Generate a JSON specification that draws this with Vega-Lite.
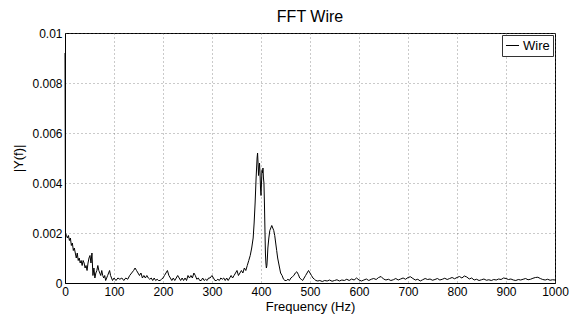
{
  "$schema": "https://vega.github.io/schema/vega-lite/v6.json",
  "autosize": "none",
  "width": 490,
  "height": 250,
  "padding": {"left": 65, "top": 33, "right": 21, "bottom": 31},
  "background": "white",
  "title": {"text": "FFT Wire", "fontSize": 16, "font": "Liberation Sans", "fontWeight": "normal", "color": "black", "offset": 2, "anchor": "middle", "frame": "group"},
  "config": {
    "font": "Liberation Sans",
    "view": {"stroke": "black", "strokeWidth": 1},
    "axis": {"labelFont": "Liberation Sans", "labelFontSize": 12, "labelColor": "black", "titleFont": "Liberation Sans", "titleFontSize": 13, "titleFontWeight": "normal", "titleColor": "black", "domainColor": "black", "tickColor": "black", "gridColor": "#666", "gridDash": [1, 3], "gridWidth": 1, "gridOpacity": 0.7}
  },
  "data": {"values": [
    {"f":0,"y":0.0092,"s":"Wire"},{"f":1,"y":0.0020,"s":"Wire"},{"f":3,"y":0.0019,"s":"Wire"},{"f":5,"y":0.0018,"s":"Wire"},{"f":7,"y":0.0019,"s":"Wire"},{"f":9,"y":0.0017,"s":"Wire"},{"f":11,"y":0.0018,"s":"Wire"},{"f":13,"y":0.0015,"s":"Wire"},{"f":15,"y":0.0016,"s":"Wire"},{"f":17,"y":0.0013,"s":"Wire"},{"f":19,"y":0.0014,"s":"Wire"},{"f":21,"y":0.0012,"s":"Wire"},{"f":23,"y":0.0010,"s":"Wire"},{"f":25,"y":0.0012,"s":"Wire"},{"f":27,"y":0.0009,"s":"Wire"},{"f":29,"y":0.0010,"s":"Wire"},{"f":31,"y":0.0008,"s":"Wire"},{"f":33,"y":0.0009,"s":"Wire"},{"f":35,"y":0.0007,"s":"Wire"},{"f":37,"y":0.0009,"s":"Wire"},{"f":39,"y":0.0008,"s":"Wire"},{"f":41,"y":0.0006,"s":"Wire"},{"f":43,"y":0.0007,"s":"Wire"},{"f":45,"y":0.0005,"s":"Wire"},{"f":47,"y":0.0008,"s":"Wire"},{"f":49,"y":0.0010,"s":"Wire"},{"f":51,"y":0.0011,"s":"Wire"},{"f":53,"y":0.0008,"s":"Wire"},{"f":55,"y":0.0012,"s":"Wire"},{"f":57,"y":0.0003,"s":"Wire"},{"f":59,"y":0.0006,"s":"Wire"},{"f":61,"y":0.0002,"s":"Wire"},{"f":63,"y":0.0004,"s":"Wire"},{"f":65,"y":0.0005,"s":"Wire"},{"f":67,"y":0.0007,"s":"Wire"},{"f":69,"y":0.0005,"s":"Wire"},{"f":71,"y":0.0004,"s":"Wire"},{"f":73,"y":0.0003,"s":"Wire"},{"f":75,"y":0.0005,"s":"Wire"},{"f":77,"y":0.0003,"s":"Wire"},{"f":79,"y":0.0002,"s":"Wire"},{"f":81,"y":0.0003,"s":"Wire"},{"f":83,"y":0.0001,"s":"Wire"},{"f":85,"y":0.0002,"s":"Wire"},{"f":87,"y":0.0003,"s":"Wire"},{"f":89,"y":0.0004,"s":"Wire"},{"f":91,"y":0.0005,"s":"Wire"},{"f":93,"y":0.0003,"s":"Wire"},{"f":95,"y":0.0002,"s":"Wire"},{"f":97,"y":0.0001,"s":"Wire"},{"f":100,"y":0.0002,"s":"Wire"},{"f":104,"y":0.0001,"s":"Wire"},{"f":108,"y":0.0002,"s":"Wire"},{"f":112,"y":0.00015,"s":"Wire"},{"f":116,"y":0.0002,"s":"Wire"},{"f":120,"y":0.0001,"s":"Wire"},{"f":124,"y":0.0002,"s":"Wire"},{"f":128,"y":0.00015,"s":"Wire"},{"f":132,"y":0.0003,"s":"Wire"},{"f":136,"y":0.0004,"s":"Wire"},{"f":140,"y":0.0005,"s":"Wire"},{"f":143,"y":0.0006,"s":"Wire"},{"f":146,"y":0.0005,"s":"Wire"},{"f":149,"y":0.0004,"s":"Wire"},{"f":152,"y":0.0003,"s":"Wire"},{"f":155,"y":0.0004,"s":"Wire"},{"f":158,"y":0.0002,"s":"Wire"},{"f":161,"y":0.0003,"s":"Wire"},{"f":164,"y":0.0002,"s":"Wire"},{"f":167,"y":0.0003,"s":"Wire"},{"f":170,"y":0.0002,"s":"Wire"},{"f":173,"y":0.00015,"s":"Wire"},{"f":176,"y":0.0002,"s":"Wire"},{"f":179,"y":0.0001,"s":"Wire"},{"f":182,"y":0.0002,"s":"Wire"},{"f":185,"y":0.0001,"s":"Wire"},{"f":188,"y":0.00015,"s":"Wire"},{"f":191,"y":0.0001,"s":"Wire"},{"f":194,"y":0.0001,"s":"Wire"},{"f":197,"y":0.00015,"s":"Wire"},{"f":200,"y":0.0002,"s":"Wire"},{"f":203,"y":0.0003,"s":"Wire"},{"f":206,"y":0.0004,"s":"Wire"},{"f":209,"y":0.0005,"s":"Wire"},{"f":212,"y":0.0003,"s":"Wire"},{"f":215,"y":0.0002,"s":"Wire"},{"f":218,"y":0.0001,"s":"Wire"},{"f":221,"y":0.0002,"s":"Wire"},{"f":224,"y":0.0001,"s":"Wire"},{"f":227,"y":0.0002,"s":"Wire"},{"f":230,"y":0.0003,"s":"Wire"},{"f":233,"y":0.0002,"s":"Wire"},{"f":236,"y":0.0001,"s":"Wire"},{"f":239,"y":0.0002,"s":"Wire"},{"f":242,"y":0.0001,"s":"Wire"},{"f":245,"y":0.0002,"s":"Wire"},{"f":248,"y":0.0001,"s":"Wire"},{"f":251,"y":0.0003,"s":"Wire"},{"f":254,"y":0.0002,"s":"Wire"},{"f":257,"y":0.0003,"s":"Wire"},{"f":260,"y":0.0002,"s":"Wire"},{"f":263,"y":0.0004,"s":"Wire"},{"f":266,"y":0.0003,"s":"Wire"},{"f":269,"y":0.00015,"s":"Wire"},{"f":272,"y":0.0002,"s":"Wire"},{"f":275,"y":0.0001,"s":"Wire"},{"f":278,"y":0.0001,"s":"Wire"},{"f":281,"y":0.0002,"s":"Wire"},{"f":284,"y":0.0001,"s":"Wire"},{"f":287,"y":0.00015,"s":"Wire"},{"f":290,"y":0.0001,"s":"Wire"},{"f":293,"y":0.0002,"s":"Wire"},{"f":296,"y":0.0002,"s":"Wire"},{"f":300,"y":0.0003,"s":"Wire"},{"f":303,"y":0.0002,"s":"Wire"},{"f":306,"y":0.0001,"s":"Wire"},{"f":309,"y":0.0001,"s":"Wire"},{"f":312,"y":0.00015,"s":"Wire"},{"f":315,"y":0.0001,"s":"Wire"},{"f":318,"y":0.0002,"s":"Wire"},{"f":321,"y":0.00015,"s":"Wire"},{"f":324,"y":0.0002,"s":"Wire"},{"f":327,"y":0.0001,"s":"Wire"},{"f":330,"y":0.0002,"s":"Wire"},{"f":333,"y":0.0001,"s":"Wire"},{"f":336,"y":0.0002,"s":"Wire"},{"f":339,"y":0.0003,"s":"Wire"},{"f":342,"y":0.0002,"s":"Wire"},{"f":345,"y":0.0003,"s":"Wire"},{"f":348,"y":0.0004,"s":"Wire"},{"f":351,"y":0.0005,"s":"Wire"},{"f":354,"y":0.0003,"s":"Wire"},{"f":357,"y":0.0004,"s":"Wire"},{"f":360,"y":0.0005,"s":"Wire"},{"f":363,"y":0.0004,"s":"Wire"},{"f":366,"y":0.0006,"s":"Wire"},{"f":369,"y":0.0005,"s":"Wire"},{"f":372,"y":0.0007,"s":"Wire"},{"f":375,"y":0.0009,"s":"Wire"},{"f":378,"y":0.0011,"s":"Wire"},{"f":381,"y":0.0014,"s":"Wire"},{"f":384,"y":0.0018,"s":"Wire"},{"f":386,"y":0.0024,"s":"Wire"},{"f":388,"y":0.0032,"s":"Wire"},{"f":390,"y":0.0042,"s":"Wire"},{"f":392,"y":0.0050,"s":"Wire"},{"f":393,"y":0.0052,"s":"Wire"},{"f":394,"y":0.0048,"s":"Wire"},{"f":395,"y":0.0043,"s":"Wire"},{"f":396,"y":0.0046,"s":"Wire"},{"f":397,"y":0.0048,"s":"Wire"},{"f":398,"y":0.0044,"s":"Wire"},{"f":399,"y":0.0038,"s":"Wire"},{"f":400,"y":0.0035,"s":"Wire"},{"f":401,"y":0.0040,"s":"Wire"},{"f":402,"y":0.0045,"s":"Wire"},{"f":403,"y":0.0044,"s":"Wire"},{"f":404,"y":0.0046,"s":"Wire"},{"f":405,"y":0.0042,"s":"Wire"},{"f":406,"y":0.0040,"s":"Wire"},{"f":407,"y":0.0032,"s":"Wire"},{"f":408,"y":0.0022,"s":"Wire"},{"f":409,"y":0.0012,"s":"Wire"},{"f":410,"y":0.0008,"s":"Wire"},{"f":411,"y":0.0006,"s":"Wire"},{"f":412,"y":0.0007,"s":"Wire"},{"f":413,"y":0.0010,"s":"Wire"},{"f":414,"y":0.0014,"s":"Wire"},{"f":416,"y":0.0018,"s":"Wire"},{"f":418,"y":0.0021,"s":"Wire"},{"f":420,"y":0.0022,"s":"Wire"},{"f":422,"y":0.0023,"s":"Wire"},{"f":424,"y":0.0022,"s":"Wire"},{"f":426,"y":0.0021,"s":"Wire"},{"f":428,"y":0.0019,"s":"Wire"},{"f":430,"y":0.0016,"s":"Wire"},{"f":432,"y":0.0013,"s":"Wire"},{"f":434,"y":0.0010,"s":"Wire"},{"f":436,"y":0.0008,"s":"Wire"},{"f":438,"y":0.0006,"s":"Wire"},{"f":440,"y":0.0004,"s":"Wire"},{"f":443,"y":0.0003,"s":"Wire"},{"f":446,"y":0.00015,"s":"Wire"},{"f":449,"y":0.0001,"s":"Wire"},{"f":452,"y":0.0001,"s":"Wire"},{"f":455,"y":0.00015,"s":"Wire"},{"f":458,"y":0.0001,"s":"Wire"},{"f":461,"y":0.0002,"s":"Wire"},{"f":464,"y":0.00025,"s":"Wire"},{"f":467,"y":0.0003,"s":"Wire"},{"f":470,"y":0.0004,"s":"Wire"},{"f":473,"y":0.00045,"s":"Wire"},{"f":476,"y":0.00035,"s":"Wire"},{"f":479,"y":0.0002,"s":"Wire"},{"f":482,"y":0.00015,"s":"Wire"},{"f":485,"y":0.0001,"s":"Wire"},{"f":488,"y":0.0002,"s":"Wire"},{"f":491,"y":0.0003,"s":"Wire"},{"f":494,"y":0.0004,"s":"Wire"},{"f":497,"y":0.0005,"s":"Wire"},{"f":500,"y":0.0004,"s":"Wire"},{"f":503,"y":0.0003,"s":"Wire"},{"f":506,"y":0.0002,"s":"Wire"},{"f":509,"y":0.00015,"s":"Wire"},{"f":512,"y":0.0001,"s":"Wire"},{"f":516,"y":0.00008,"s":"Wire"},{"f":520,"y":0.0001,"s":"Wire"},{"f":525,"y":0.00006,"s":"Wire"},{"f":530,"y":0.0001,"s":"Wire"},{"f":535,"y":0.00008,"s":"Wire"},{"f":540,"y":0.00012,"s":"Wire"},{"f":545,"y":0.00007,"s":"Wire"},{"f":550,"y":0.0001,"s":"Wire"},{"f":555,"y":0.00013,"s":"Wire"},{"f":560,"y":0.00008,"s":"Wire"},{"f":565,"y":0.00012,"s":"Wire"},{"f":570,"y":0.0001,"s":"Wire"},{"f":575,"y":0.00015,"s":"Wire"},{"f":580,"y":0.0001,"s":"Wire"},{"f":585,"y":0.00016,"s":"Wire"},{"f":590,"y":0.00012,"s":"Wire"},{"f":595,"y":0.0002,"s":"Wire"},{"f":600,"y":0.00012,"s":"Wire"},{"f":605,"y":0.00008,"s":"Wire"},{"f":610,"y":0.00012,"s":"Wire"},{"f":615,"y":0.00016,"s":"Wire"},{"f":620,"y":0.0001,"s":"Wire"},{"f":625,"y":0.00015,"s":"Wire"},{"f":630,"y":0.00018,"s":"Wire"},{"f":635,"y":0.00014,"s":"Wire"},{"f":640,"y":0.00022,"s":"Wire"},{"f":645,"y":0.00026,"s":"Wire"},{"f":650,"y":0.00016,"s":"Wire"},{"f":655,"y":0.00012,"s":"Wire"},{"f":660,"y":0.00015,"s":"Wire"},{"f":665,"y":0.0001,"s":"Wire"},{"f":670,"y":0.00013,"s":"Wire"},{"f":675,"y":0.00018,"s":"Wire"},{"f":680,"y":0.00012,"s":"Wire"},{"f":685,"y":0.00016,"s":"Wire"},{"f":690,"y":0.0002,"s":"Wire"},{"f":695,"y":0.00015,"s":"Wire"},{"f":700,"y":0.00022,"s":"Wire"},{"f":705,"y":0.00025,"s":"Wire"},{"f":710,"y":0.00018,"s":"Wire"},{"f":715,"y":0.00012,"s":"Wire"},{"f":720,"y":0.00015,"s":"Wire"},{"f":725,"y":0.00008,"s":"Wire"},{"f":730,"y":0.00013,"s":"Wire"},{"f":735,"y":0.00018,"s":"Wire"},{"f":740,"y":0.00014,"s":"Wire"},{"f":745,"y":0.00016,"s":"Wire"},{"f":750,"y":0.00011,"s":"Wire"},{"f":755,"y":0.00014,"s":"Wire"},{"f":760,"y":0.00018,"s":"Wire"},{"f":765,"y":0.00012,"s":"Wire"},{"f":770,"y":0.00015,"s":"Wire"},{"f":775,"y":0.00019,"s":"Wire"},{"f":780,"y":0.00014,"s":"Wire"},{"f":785,"y":0.00018,"s":"Wire"},{"f":790,"y":0.00022,"s":"Wire"},{"f":795,"y":0.00017,"s":"Wire"},{"f":800,"y":0.00022,"s":"Wire"},{"f":805,"y":0.00026,"s":"Wire"},{"f":810,"y":0.0002,"s":"Wire"},{"f":815,"y":0.00028,"s":"Wire"},{"f":820,"y":0.00024,"s":"Wire"},{"f":825,"y":0.00016,"s":"Wire"},{"f":830,"y":0.0002,"s":"Wire"},{"f":835,"y":0.00012,"s":"Wire"},{"f":840,"y":0.00015,"s":"Wire"},{"f":845,"y":0.0001,"s":"Wire"},{"f":850,"y":0.00013,"s":"Wire"},{"f":855,"y":0.00016,"s":"Wire"},{"f":860,"y":0.00011,"s":"Wire"},{"f":865,"y":0.00013,"s":"Wire"},{"f":870,"y":0.0001,"s":"Wire"},{"f":875,"y":0.00014,"s":"Wire"},{"f":880,"y":0.00012,"s":"Wire"},{"f":885,"y":0.00016,"s":"Wire"},{"f":890,"y":0.00014,"s":"Wire"},{"f":895,"y":0.0002,"s":"Wire"},{"f":900,"y":0.00018,"s":"Wire"},{"f":905,"y":0.00014,"s":"Wire"},{"f":910,"y":0.00016,"s":"Wire"},{"f":915,"y":0.00012,"s":"Wire"},{"f":920,"y":0.0001,"s":"Wire"},{"f":925,"y":0.00014,"s":"Wire"},{"f":930,"y":0.00012,"s":"Wire"},{"f":935,"y":0.00015,"s":"Wire"},{"f":940,"y":0.00018,"s":"Wire"},{"f":945,"y":0.00013,"s":"Wire"},{"f":950,"y":0.00015,"s":"Wire"},{"f":955,"y":0.00019,"s":"Wire"},{"f":960,"y":0.00022,"s":"Wire"},{"f":965,"y":0.00023,"s":"Wire"},{"f":970,"y":0.00018,"s":"Wire"},{"f":975,"y":0.00014,"s":"Wire"},{"f":980,"y":0.00012,"s":"Wire"},{"f":985,"y":0.00015,"s":"Wire"},{"f":990,"y":0.00011,"s":"Wire"},{"f":995,"y":0.00013,"s":"Wire"},{"f":1000,"y":0.00012,"s":"Wire"}
  ]},
  "mark": {"type": "line", "strokeWidth": 1, "interpolate": "linear"},
  "encoding": {
    "x": {"field": "f", "type": "quantitative", "scale": {"domain": [0, 1000], "nice": false},
      "axis": {"title": "Frequency (Hz)", "format": "d", "values": [0,100,200,300,400,500,600,700,800,900,1000], "tickSize": 0, "labelPadding": 3, "titleY": 23, "titleBaseline": "middle", "labelFlush": false, "grid": true}},
    "y": {"field": "y", "type": "quantitative", "scale": {"domain": [0, 0.01], "nice": false},
      "axis": {"title": "|Y(f)|", "values": [0,0.002,0.004,0.006,0.008,0.01], "format": "~g", "tickSize": 0, "labelPadding": 3, "titlePadding": 6, "labelFlush": false, "grid": true}},
    "color": {"field": "s", "type": "nominal", "scale": {"range": ["black"]},
      "legend": {"title": null, "orient": "top-right", "offset": 2, "strokeColor": "#333", "fillColor": "white", "padding": 3, "symbolType": "stroke", "symbolSize": 170, "symbolStrokeWidth": 1, "labelFont": "Liberation Sans", "labelFontSize": 13, "labelColor": "black", "labelOffset": 3, "cornerRadius": 0}}
  }
}
